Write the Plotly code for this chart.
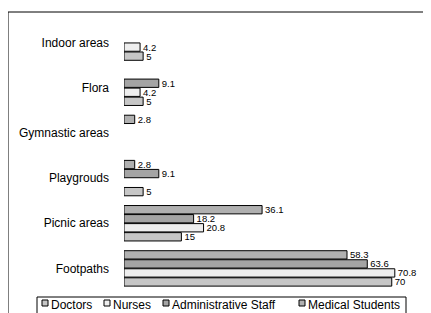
import plotly.graph_objects as go

categories = ["Footpaths", "Picnic areas", "Playgrouds", "Gymnastic areas", "Flora", "Indoor areas"]
series_names = ["Doctors", "Nurses", "Administrative Staff", "Medical Students"]
doctors = [70, 15, 5, None, 5, 5]
nurses = [70.8, 20.8, None, None, 4.2, 4.2]
admin_staff = [63.6, 18.2, 9.1, None, 9.1, None]
medical_students = [58.3, 36.1, 2.8, 2.8, None, None]
series_values = [doctors, nurses, admin_staff, medical_students]
colors = ["#c6c6c6", "#eeeeee", "#a4a4a4", "#b0b0b0"]

# page body has an 8px margin: screen position = figure position + 8
OFF = 8
W, H = 431, 313
# plot area on screen: x 124..430, y 20..291
ML = 124 - OFF
MR = W - (430 - OFF)
MT = 20 - OFF
MB = H - (291 - OFF)
PW, PH = W - ML - MR, H - MT - MB


def px(x):  # screen x -> paper
    return (x - OFF - ML) / PW


def py(y):  # screen y -> paper
    return (H - MB - (y - OFF)) / PH


FONT = "Arial, Liberation Sans, sans-serif"

fig = go.Figure()
for name, vals, col in zip(series_names, series_values, colors):
    fig.add_trace(go.Bar(
        y=categories, x=vals, name=name, orientation="h",
        marker=dict(color=col, line=dict(color="black", width=1)),
        text=[("" if v is None else f"{v:g}") for v in vals],
        textposition="outside", cliponaxis=False, constraintext="none",
        textfont=dict(family=FONT, size=9.5, color="black"),
        showlegend=False,
    ))

shapes = [
    # outer chart border
    dict(type="rect", xref="paper", yref="paper", x0=px(8), x1=px(445), y0=py(330), y1=py(12),
         line=dict(color="black", width=1), fillcolor="rgba(0,0,0,0)", layer="above"),
    # legend box
    dict(type="rect", xref="paper", yref="paper", x0=px(37), x1=px(406), y0=py(330), y1=py(297),
         line=dict(color="black", width=1), fillcolor="white", layer="above"),
]
annotations = []
sym_x = [42, 104, 163, 299]
for name, col, sx in zip(series_names, colors, sym_x):
    shapes.append(dict(type="rect", xref="paper", yref="paper", x0=px(sx), x1=px(sx + 6),
                       y0=py(306), y1=py(300), line=dict(color="black", width=1),
                       fillcolor=col, layer="above"))
    annotations.append(dict(xref="paper", yref="paper", x=px(sx + 7), y=py(305), text=name,
                            showarrow=False, xanchor="left", yanchor="middle",
                            font=dict(family=FONT, size=12, color="black")))

fig.update_layout(
    width=W, height=H,
    margin=dict(l=ML, r=MR, t=MT, b=MB),
    barmode="group", bargap=0.2, bargroupgap=0.08,
    plot_bgcolor="white", paper_bgcolor="white",
    font=dict(family=FONT, size=12, color="black"),
    xaxis=dict(range=[0, 80], showgrid=False, zeroline=False, showline=False,
               showticklabels=False, ticks=""),
    yaxis=dict(categoryorder="array", categoryarray=categories, showgrid=False,
               zeroline=False, showline=False, ticks="", ticklabelstandoff=14,
               tickfont=dict(family=FONT, size=12, color="black")),
    shapes=shapes, annotations=annotations,
)

fig.write_html("out.html")
